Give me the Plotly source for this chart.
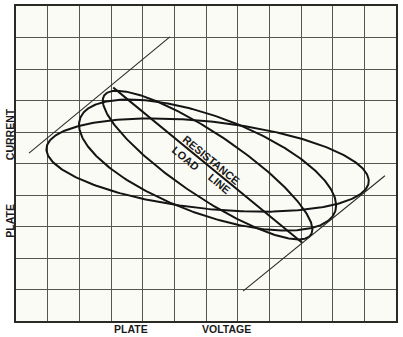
import numpy as np
import plotly.graph_objects as go

# Grid (chart units): 12 columns of plate voltage, 10 rows of plate current
x_cells = 12
y_cells = 10

# Operating point (centre of all loci), in grid units
center = [6.05, 4.95]

# Loci of operating point: voltage swing, current swing, phase angle of load (deg)
# first entry is the pure resistance (load line)
volt_amp = [2.98, 3.31, 4.06, 5.09]
curr_amp = [2.46, 2.36, 2.08, 1.48]
phase_deg = [0, 30, 52, 70]

# Plate characteristics at grid-swing extremes (tangent lines), grid units
char_upper_x = [0.41, 4.86]
char_upper_y = [5.33, 9.02]
char_lower_x = [7.17, 11.65]
char_lower_y = [0.95, 4.61]

# Text labels
load_labels = ["RESISTANCE", "LOAD", "LINE"]
load_label_x = [6.16, 5.34, 6.44]
load_label_y = [5.10, 5.17, 4.36]
axis_labels = ["PLATE", "VOLTAGE", "CURRENT", "PLATE"]

fig = go.Figure()

t = np.linspace(0, 2 * np.pi, 361)
for va, ia, ph in zip(volt_amp, curr_amp, phase_deg):
    p = np.deg2rad(ph)
    xs = center[0] - va * np.cos(t + p)
    ys = center[1] + ia * np.cos(t)
    fig.add_trace(go.Scatter(x=xs, y=ys, mode="lines",
                             line=dict(color="#141414", width=2),
                             hoverinfo="skip", showlegend=False))

for cx, cy in [(char_upper_x, char_upper_y), (char_lower_x, char_lower_y)]:
    fig.add_trace(go.Scatter(x=cx, y=cy, mode="lines",
                             line=dict(color="#2a2a26", width=1.1),
                             hoverinfo="skip", showlegend=False))

ang = 39.5
lab_font = dict(family="Liberation Sans, Arial, sans-serif", size=11, color="#1a1a1a")
for txt, lx, ly in zip(load_labels, load_label_x, load_label_y):
    fig.add_annotation(x=lx, y=ly, text="<b>" + txt + "</b>", showarrow=False,
                       textangle=ang, font=lab_font, xref="x", yref="y")

axis_font = dict(family="Liberation Sans, Arial, sans-serif", size=10.5, color="#1a1a1a")

W, H = 403, 337
L, R, T, B = 16, 7, 4, 16
fig.update_layout(
    width=W, height=H,
    margin=dict(l=L, r=R, t=T, b=B),
    paper_bgcolor="#ffffff",
    plot_bgcolor="#fbfbf6",
    xaxis=dict(range=[0, x_cells], dtick=1, showgrid=True, gridcolor="#56564c",
               gridwidth=1.2, zeroline=False, showticklabels=False, ticks="",
               showline=True, linecolor="#2a2a24", linewidth=2, mirror=True,
               fixedrange=True),
    yaxis=dict(range=[0, y_cells], dtick=1, showgrid=True, gridcolor="#56564c",
               gridwidth=1.2, zeroline=False, showticklabels=False, ticks="",
               showline=True, linecolor="#2a2a24", linewidth=2, mirror=True,
               fixedrange=True),
)

pw, ph_ = W - L - R, H - T - B

def paper(px, py):
    return (px - L) / pw, (H - B - py) / ph_

for txt, px, py, rot in zip(axis_labels, [131, 227, 10, 10], [329, 329, 133, 220],
                            [0, 0, -90, -90]):
    xx, yy = paper(px, py)
    fig.add_annotation(x=xx, y=yy, xref="paper", yref="paper", text="<b>" + txt + "</b>",
                       showarrow=False, textangle=rot, font=axis_font,
                       xanchor="center", yanchor="middle")

fig.write_html("out.html")
